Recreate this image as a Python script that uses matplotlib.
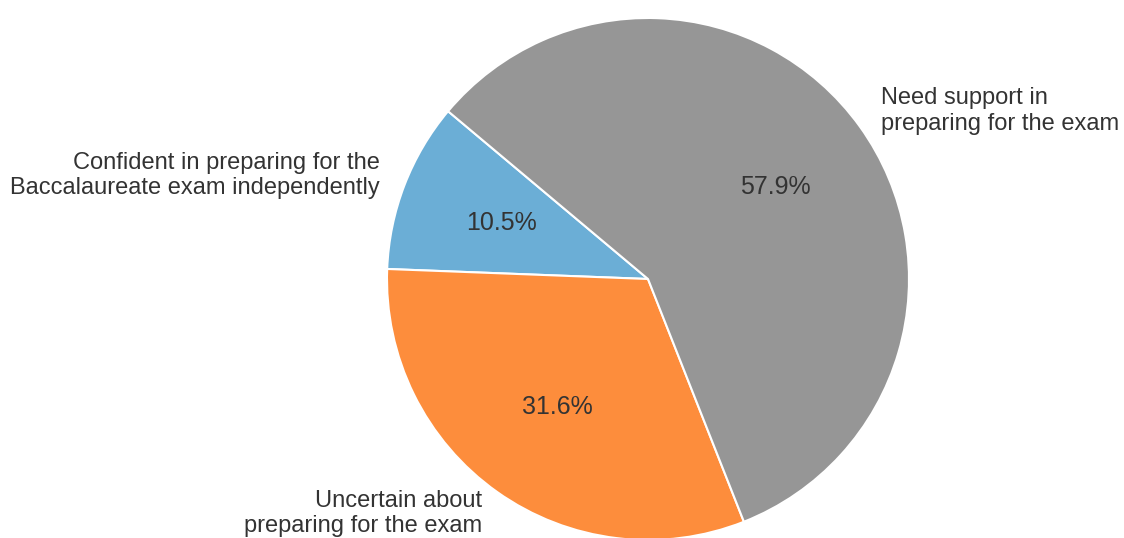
import matplotlib
matplotlib.use("Agg")
import matplotlib.pyplot as plt

labels = ["Confident in preparing for the\nBaccalaureate exam independently",
          "Uncertain about\npreparing for the exam",
          "Need support in\npreparing for the exam"]
values = [10.5, 31.6, 57.9]
colors = ["#6baed6", "#fd8d3c", "#969696"]

plt.rcParams['font.family'] = ['Liberation Sans', 'DejaVu Sans']

W, H = 1124, 538
fig = plt.figure(figsize=(W / 100, H / 100), dpi=100)
ax = fig.add_axes([0, 0, 1, 1])
wedges, texts, autotexts = ax.pie(
    values, labels=labels, colors=colors, startangle=140, autopct='%1.1f%%',
    pctdistance=0.6, labeldistance=1.1,
    wedgeprops=dict(edgecolor='white', linewidth=1.5),
    textprops=dict(fontsize=17, color='#333333'))
for t in autotexts:
    t.set_fontsize(18)

cx, cy, R = 648, 279, 261
ax.set_aspect('auto')
ax.set_xlim(-cx / R, (W - cx) / R)
ax.set_ylim(-(H - cy) / R, cy / R)
ax.axis('off')
fig.savefig("out.png", dpi=100)
